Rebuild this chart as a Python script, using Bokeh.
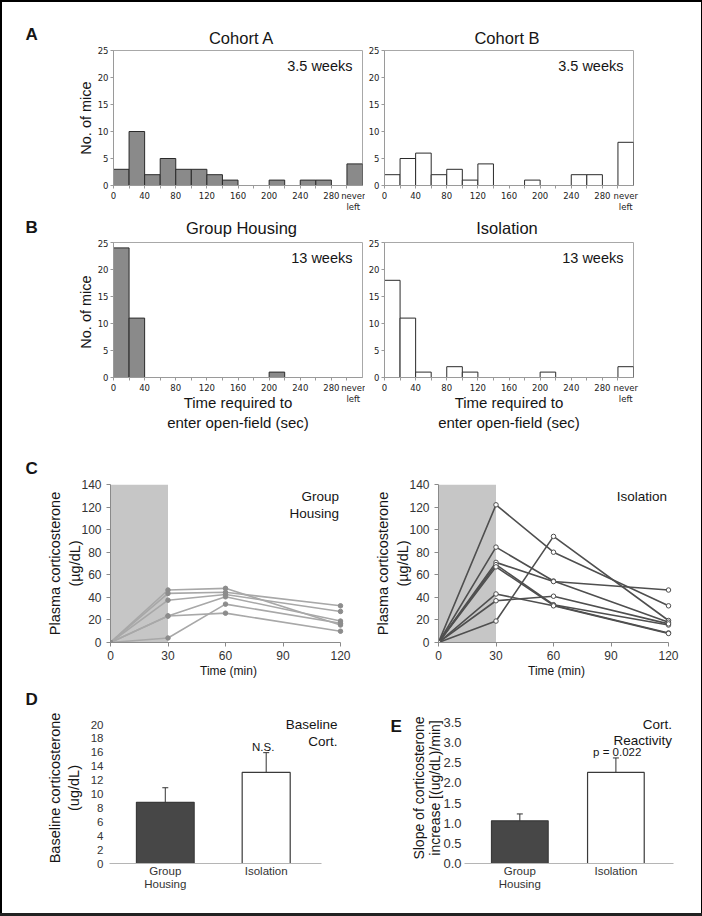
from bokeh.plotting import figure
from bokeh.layouts import column, row
from bokeh.models import (Range1d, FixedTicker, Label, Whisker, TeeHead,
                          ColumnDataSource, Div, NumeralTickFormatter)
from bokeh.embed import file_html
from bokeh.resources import INLINE

# ---------------- data ----------------
bin_left = [0, 20, 40, 60, 80, 100, 120, 140, 160, 180, 200, 220, 240, 260, 280]
bin_width = 20
never_left_pos = 300
hist_xticks = [0, 40, 80, 120, 160, 200, 240, 280]
hist_marks = [0, 20, 40, 60, 80, 100, 120, 140, 160, 180, 200, 220, 240, 260, 280, 300]
never_label = "never\nleft"
hist_yticks = [0, 5, 10, 15, 20, 25]

cohort_a = [3, 10, 2, 5, 3, 3, 2, 1, 0, 0, 1, 0, 1, 1, 0]
cohort_a_never = 4
cohort_b = [2, 5, 6, 2, 3, 1, 4, 0, 0, 1, 0, 0, 2, 2, 0]
cohort_b_never = 8
group_13wk = [24, 11, 0, 0, 0, 0, 0, 0, 0, 0, 1, 0, 0, 0, 0]
group_13wk_never = 0
iso_13wk = [18, 11, 1, 0, 2, 1, 0, 0, 0, 0, 1, 0, 0, 0, 0]
iso_13wk_never = 2

times = [0, 30, 60, 120]
time_ticks = [0, 30, 60, 90, 120]
cort_ticks = [0, 20, 40, 60, 80, 100, 120, 140]
group_cort = [
    [0, 46.5, 48.0, 15.5],
    [0, 43.5, 44.5, 32.5],
    [0, 37.5, 42.5, 27.5],
    [0, 23.5, 40.5, 19.0],
    [0, 4.0, 34.0, 17.0],
    [0, 23.5, 26.0, 10.0],
]
iso_cort = [
    [0, 122.0, 80.0, 32.5],
    [0, 19.0, 94.0, 19.5],
    [0, 84.5, 54.5, 18.0],
    [0, 71.0, 54.0, 46.5],
    [0, 69.0, 33.5, 15.5],
    [0, 67.0, 33.0, 8.5],
    [0, 43.0, 32.5, 8.0],
    [0, 37.0, 41.0, 16.5],
]

groups = ["Group\nHousing", "Isolation"]
group_pos = [1, 2]
baseline_mean = [8.8, 13.1]
baseline_lo = [6.7, 10.35]
baseline_hi = [10.9, 15.95]
baseline_ticks = [0, 2, 4, 6, 8, 10, 12, 14, 16, 18, 20]
slope_mean = [1.06, 2.26]
slope_lo = [0.87, 1.88]
slope_hi = [1.23, 2.62]
slope_ticks = [0, 0.5, 1.0, 1.5, 2.0, 2.5, 3.0, 3.5]

SANS = "Liberation Sans"
VERD = "DejaVu Sans"
TXT = "#151515"


# ---------------- helpers ----------------
def make_fig(g, xr, yr):
    ox, oy, w, h, fx, fy, fw, fh = g
    p = figure(frame_width=fw, frame_height=fh,
               min_border_left=fx - ox, min_border_top=fy - oy,
               min_border_right=ox + w - (fx + fw),
               min_border_bottom=oy + h - (fy + fh),
               x_range=Range1d(*xr), y_range=Range1d(*yr),
               output_backend="svg", toolbar_location=None,
               background_fill_color="white", border_fill_color="white")
    p.xgrid.visible = False
    p.ygrid.visible = False
    p._geom = (g, xr, yr)
    return p


def strip(ox, oy, w, h):
    g = (ox, oy, w, h, ox, oy, w, h)
    p = make_fig(g, (ox, ox + w), (oy, oy + h))
    p.x_range = Range1d(ox, ox + w)
    p.y_range = Range1d(oy + h, oy)
    p.xaxis.visible = False
    p.yaxis.visible = False
    p.outline_line_color = None
    p._geom = (g, None, None)
    return p


def to_data(p, rx, ry):
    g, xr, yr = p._geom
    if xr is None:
        return rx, ry
    ox, oy, w, h, fx, fy, fw, fh = g
    x = xr[0] + (rx - fx) / fw * (xr[1] - xr[0])
    y = yr[1] - (ry - fy) / fh * (yr[1] - yr[0])
    return x, y


def text(p, rx, ry, s, size, align="center", baseline="middle",
         style="normal", font=SANS, color=TXT):
    x, y = to_data(p, rx, ry)
    p.add_layout(Label(x=x, y=y, text=s, text_font_size=size,
                       text_align=align, text_baseline=baseline,
                       text_font_style=style, text_font=font,
                       text_color=color))


def style_axes(p, font, size, color="#333", line="#999",
               tick_out=3, standoff=3):
    for ax in (p.xaxis[0], p.yaxis[0]):
        ax.axis_line_color = line
        ax.major_tick_line_color = line
        ax.major_tick_out = tick_out
        ax.major_tick_in = 0
        ax.minor_tick_line_color = None
        ax.major_label_text_font = font
        ax.major_label_text_font_size = size
        ax.major_label_text_color = color
        ax.major_label_standoff = standoff
        ax.axis_label_text_font = SANS
        ax.axis_label_text_font_style = "normal"
        ax.axis_label_text_color = TXT


def histogram(g, counts, never, fill, note, ylabel=None, xlabel=None):
    p = make_fig(g, (0, 320), (0, 25))
    lefts = [l for l, c in zip(bin_left, counts) if c > 0]
    tops = [c for c in counts if c > 0]
    if never > 0:
        lefts.append(never_left_pos)
        tops.append(never)
    rights = [l + bin_width for l in lefts]
    p.quad(left=lefts, right=rights, bottom=0, top=tops,
           fill_color=fill, line_color="#2a2a2a", line_width=1)
    p.outline_line_color = "#a8a8a8"
    style_axes(p, VERD, "8.5px", color="#222", line="#9a9a9a",
               tick_out=3, standoff=2)
    never_tick = never_left_pos + bin_width / 2
    p.xaxis.ticker = FixedTicker(ticks=hist_xticks + [never_tick],
                                 minor_ticks=hist_marks)
    p.xaxis.major_label_overrides = {never_tick: never_label}
    p.xaxis.major_label_text_line_height = 1.15
    p.xaxis.major_tick_line_color = None
    p.xaxis.minor_tick_line_color = "#9a9a9a"
    p.xaxis.minor_tick_out = 3
    p.xaxis.minor_tick_in = 0
    p.xaxis.major_label_standoff = 2
    p.yaxis.ticker = FixedTicker(ticks=hist_yticks)
    if ylabel:
        p.yaxis.axis_label = ylabel
        p.yaxis.axis_label_text_font_size = "14.5px"
        p.yaxis.axis_label_standoff = 1
    if xlabel:
        p.xaxis.axis_label = xlabel
        p.xaxis.axis_label_text_font_size = "15px"
        p.xaxis.axis_label_text_line_height = 1.2
        p.xaxis.axis_label_standoff = -13
    fx, fy, fw, fh = g[4], g[5], g[6], g[7]
    text(p, fx + fw - 10, fy + 15.5, note, "14.5px", align="right")
    return p


def cort_fig(g, series, line_color, marker_fill, marker_line, notes):
    p = make_fig(g, (0, 123.13), (0, 140))
    p.quad(left=0, right=30, bottom=0, top=140, fill_color="#c6c6c6",
           line_color=None)
    for s in series:
        p.line(times, s, line_color=line_color, line_width=1.6)
        p.scatter(times, s, size=4.5, marker="circle", fill_color=marker_fill,
                  line_color=marker_line, line_width=1)
    p.outline_line_color = None
    style_axes(p, SANS, "12px", color="#333", line="#8a8a8a",
               tick_out=4, standoff=5)
    p.xaxis.ticker = FixedTicker(ticks=time_ticks)
    p.yaxis.ticker = FixedTicker(ticks=cort_ticks)
    p.xaxis.bounds = (0, 120)
    p.xaxis.major_label_standoff = 4
    p.xaxis.axis_label = "Time (min)"
    p.xaxis.axis_label_text_font_size = "12px"
    p.xaxis.axis_label_standoff = 1
    p.yaxis.axis_label = "Plasma corticosterone\n(\u00b5g/dL)"
    p.yaxis.axis_label_text_font_size = "14.5px"
    p.yaxis.axis_label_text_line_height = 1.25
    p.yaxis.axis_label_standoff = -5
    fx = g[4]
    right = fx + 120 / 123.13 * g[6]
    for i, s in enumerate(notes):
        text(p, right - 1.5, 496 + 17 * i, s, "13.5px", align="right")
    return p


def bar_fig(g, xr, yr, xbounds, means, lo, hi, widths, ticks, ylabel,
            label_size, label_lh, label_standoff, tick_size, tick_standoff,
            notes, note_x, note_y, sig, sig_xy, fmt=None):
    p = make_fig(g, xr, yr)
    p.vbar(x=group_pos, width=widths, top=means, bottom=0,
           fill_color=["#474747", "white"], line_color="#3a3a3a",
           line_width=1.2)
    src = ColumnDataSource(dict(x=group_pos, lower=lo, upper=hi))
    p.add_layout(Whisker(source=src, base="x", lower="lower", upper="upper",
                         line_color="#333", line_width=1,
                         upper_head=TeeHead(size=6, line_color="#333"),
                         lower_head=TeeHead(size=6, line_color="#333")))
    p.outline_line_color = None
    style_axes(p, SANS, tick_size, color="#333", line="#b5b5b5",
               tick_out=0, standoff=tick_standoff)
    p.yaxis.axis_line_color = None
    p.yaxis.major_tick_line_color = None
    p.xaxis.major_tick_line_color = None
    p.xaxis.bounds = xbounds
    p.xaxis.major_label_text_font_size = "11.5px"
    p.xaxis.major_label_text_line_height = 1.1
    p.xaxis.major_label_standoff = 1
    p.xaxis.ticker = FixedTicker(ticks=group_pos)
    p.xaxis.major_label_overrides = {pos: lab for pos, lab in zip(group_pos, groups)}
    p.yaxis.ticker = FixedTicker(ticks=ticks)
    if fmt:
        p.yaxis.formatter = NumeralTickFormatter(format=fmt)
    p.yaxis.axis_label = ylabel
    p.yaxis.axis_label_text_font_size = label_size
    p.yaxis.axis_label_text_line_height = label_lh
    p.yaxis.axis_label_standoff = label_standoff
    for i, s in enumerate(notes):
        text(p, note_x, note_y[i], s, "13.5px", align="right")
    text(p, sig_xy[0], sig_xy[1], sig, "11.5px")
    return p


# ---------------- geometry (page pixel coords) ----------------
# (origin x, origin y, width, height, frame x, frame y, frame w, frame h)
gA1 = (44, 46, 321, 169, 113, 50, 249, 135)
gA2 = (365, 46, 335, 169, 384, 50, 249, 135)
gB1 = (44, 239, 321, 211, 113, 242, 249, 135)
gB2 = (365, 239, 335, 211, 384, 242, 249, 135)
gC1 = (44, 450, 321, 235, 109, 484, 236, 158)
gC2 = (365, 450, 335, 235, 437, 484, 236, 158)
gD = (44, 685, 321, 228, 108, 712, 237, 151)
gE = (405, 685, 295, 228, 463, 712, 217, 151)

# letters column and title strips
letters = strip(2, 2, 42, 911)
for s, y in [("A", 34), ("B", 226.5), ("C", 468), ("D", 699)]:
    text(letters, 25, y, s, "17px", align="left", style="bold")

titlesA = strip(44, 2, 656, 44)
text(titlesA, 241, 37, "Cohort A", "16.5px")
text(titlesA, 506.5, 37, "Cohort B", "16.5px")
titlesB = strip(44, 215, 656, 24)
text(titlesB, 241, 227, "Group Housing", "16.5px")
text(titlesB, 506.5, 227, "Isolation", "16.5px")

pA1 = histogram(gA1, cohort_a, cohort_a_never, "#8a8a8a", "3.5 weeks",
                ylabel="No. of mice")
pA2 = histogram(gA2, cohort_b, cohort_b_never, "white", "3.5 weeks")
pB1 = histogram(gB1, group_13wk, group_13wk_never, "#8a8a8a", "13 weeks",
                ylabel="No. of  mice",
                xlabel="Time required to\nenter open-field (sec)")
pB2 = histogram(gB2, iso_13wk, iso_13wk_never, "white", "13 weeks",
                xlabel="Time required to\nenter open-field (sec)")

pC1 = cort_fig(gC1, group_cort, "#a8a8a8", "#8c8c8c", "#8c8c8c",
               ["Group", "Housing"])
pC2 = cort_fig(gC2, iso_cort, "#4f4f4f", "white", "#4f4f4f", ["Isolation"])

pD = bar_fig(gD, (0.447, 2.796), (0, 21.727), (0.447, 2.548),
             baseline_mean, baseline_lo, baseline_hi, [0.572, 0.476],
             baseline_ticks, "Baseline corticosterone\n(ug/dL)", "14.5px",
             1.15, 6, "11.5px", 6, ["Baseline", "Cort."], 336,
             [723.5, 740.5], "N.S.", (261.7, 746.7))
stripE = strip(365, 685, 40, 228)
text(stripE, 389, 699, "E", "17px", align="left", style="bold")
pE = bar_fig(gE, (0.424, 2.683), (0, 3.748), (0.424, 2.6),
             slope_mean, slope_lo, slope_hi, [0.59, 0.59], slope_ticks,
             "Slope of corticosterone\nincrease [(ug/dL)/min]", "14px", 1.02,
             -3, "13px", 3, ["Cort.", "Reactivity"], 670.5, [723.5, 739.5],
             "p = 0.022", (615.7, 751.7), fmt="0.0")

main = column(titlesA, row(pA1, pA2), titlesB, row(pB1, pB2),
              row(pC1, pC2), row(pD, stripE, pE))


def bar(w, h, color="#000"):
    return Div(text="", width=w, height=h, margin=0,
               styles={"background-color": color})


page = column(bar(702, 2), row(bar(2, 911), letters, main, bar(2, 911)),
              bar(702, 3, "#222"))

open("out.html", "w").write(file_html(page, INLINE))
